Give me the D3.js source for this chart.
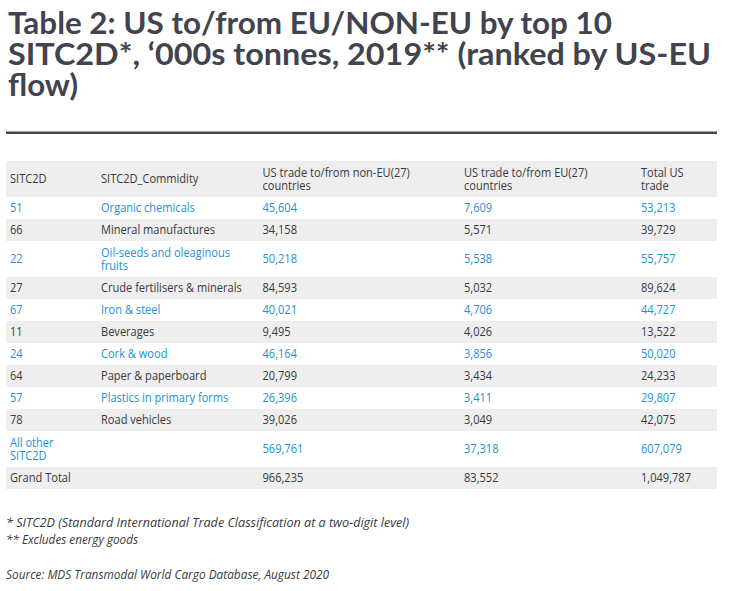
<!DOCTYPE html>
<html>
<head>
<meta charset="utf-8">
<script src="https://cdn.jsdelivr.net/npm/d3@7"></script>
<style>
  body { margin: 0; background: #fff; }
  svg { display: block; }
</style>
</head>
<body>
<svg width="729" height="591"></svg>
<script>
// Table contents
const titleLines = [
  "Table 2: US to/from EU/NON-EU by top 10",
  "SITC2D*, \u2018000s tonnes, 2019** (ranked by US-EU",
  "flow)",
];

const headers = [
  "SITC2D",
  "SITC2D_Commidity",
  "US trade to/from non-EU(27)\ncountries",
  "US trade to/from EU(27)\ncountries",
  "Total US\ntrade",
];

const codes = ["51", "66", "22", "27", "67", "11", "24", "64", "57", "78", "All other\nSITC2D", "Grand Total"];

const commodities = [
  "Organic chemicals",
  "Mineral manufactures",
  "Oil-seeds and oleaginous\nfruits",
  "Crude fertilisers & minerals",
  "Iron & steel",
  "Beverages",
  "Cork & wood",
  "Paper & paperboard",
  "Plastics in primary forms",
  "Road vehicles",
  "",
  "",
];

const nonEU = [45604, 34158, 50218, 84593, 40021, 9495, 46164, 20799, 26396, 39026, 569761, 966235];
const eu = [7609, 5571, 5538, 5032, 4706, 4026, 3856, 3434, 3411, 3049, 37318, 83552];
const total = [53213, 39729, 55757, 89624, 44727, 13522, 50020, 24233, 29807, 42075, 607079, 1049787];

const notes = [
  "* SITC2D (Standard International Trade Classification at a two-digit level)",
  "** Excludes energy goods",
  "Source: MDS Transmodal World Cargo Database, August 2020",
];

const fmt = d3.format(",");
const titleFont = "Lato, 'Open Sans', sans-serif";
const font = "'Open Sans', Lato, sans-serif";
const blue = "#2590d2";
const dark = "#383a40";
const grey = "#eeeeee";

const svg = d3.select("svg");

// Title, squeezed to the width of the original condensed face
const titleWidths = [604, 703, 70];
svg
  .selectAll("text.title")
  .data(titleLines)
  .enter()
  .append("text")
  .attr("class", "title")
  .attr("x", 8)
  .attr("y", (d, i) => 34 + i * 30.8)
  .attr("font-family", titleFont)
  .attr("font-weight", "bold")
  .attr("font-size", "31px")
  .attr("fill", "#41434f")
  .attr("textLength", (d, i) => titleWidths[i])
  .attr("lengthAdjust", "spacingAndGlyphs")
  .text((d) => d);

svg.append("rect").attr("x", 6).attr("y", 131.5).attr("width", 711).attr("height", 2.5).attr("fill", "#454652");

// Rows
const rows = codes.map((c, i) => ({
  cells: [c, commodities[i], fmt(nonEU[i]), fmt(eu[i]), fmt(total[i])],
  i: i,
}));

const colX = d3.scaleOrdinal().domain(d3.range(5)).range([10, 101, 262.5, 464, 641]);

const rowH = (cells) => 22 + 14 * (d3.max(cells, (c) => c.split("\n").length) - 1);

let y0 = 161;
const headerH = 36;
const layout = [{ cells: headers, y: y0, h: headerH, header: true }];
y0 += headerH;
rows.forEach((r) => {
  const h = rowH(r.cells);
  layout.push({ cells: r.cells, y: y0, h: h, i: r.i });
  y0 += h;
});

// measure the font to condense it like the original
const probe = svg.append("text").attr("font-family", font).attr("font-size", "12px").text("Crude fertilisers & minerals");
const k = 141 / probe.node().getComputedTextLength();
probe.remove();

const row = svg
  .selectAll("g.row")
  .data(layout)
  .enter()
  .append("g")
  .attr("class", "row")
  .attr("transform", (d) => `translate(0,${d.y})`);

row
  .append("rect")
  .attr("x", 6)
  .attr("width", 711)
  .attr("height", (d) => d.h)
  .attr("fill", (d) => (d.header || d.i % 2 == 1 ? grey : "#fff"));

row.each(function (d) {
  const g = d3.select(this);
  const color = d.header || d.i % 2 == 1 ? dark : blue;
  d.cells.forEach((cell, ci) => {
    const lines = cell.split("\n");
    lines.forEach((line, li) => {
      const by = d.h / 2 + 4.3 + (li - (lines.length - 1) / 2) * 13.2;
      g.append("text")
        .attr("transform", `translate(${colX(ci)},${by}) scale(${k},1)`)
        .attr("font-family", font)
        .attr("font-size", "12px")
        .attr("fill", color)
        .text(line);
    });
  });
});

// Footnotes, each fitted to its width in the original
const noteWidths = [403, 132, 323];
svg
  .selectAll("text.note")
  .data(notes)
  .enter()
  .append("text")
  .attr("class", "note")
  .attr("x", 6)
  .attr("y", (d, i) => [526.5, 544, 579][i])
  .attr("font-family", font)
  .attr("font-style", "italic")
  .attr("font-size", "12px")
  .attr("fill", dark)
  .attr("textLength", (d, i) => noteWidths[i])
  .attr("lengthAdjust", "spacingAndGlyphs")
  .text((d) => d);
</script>
</body>
</html>
